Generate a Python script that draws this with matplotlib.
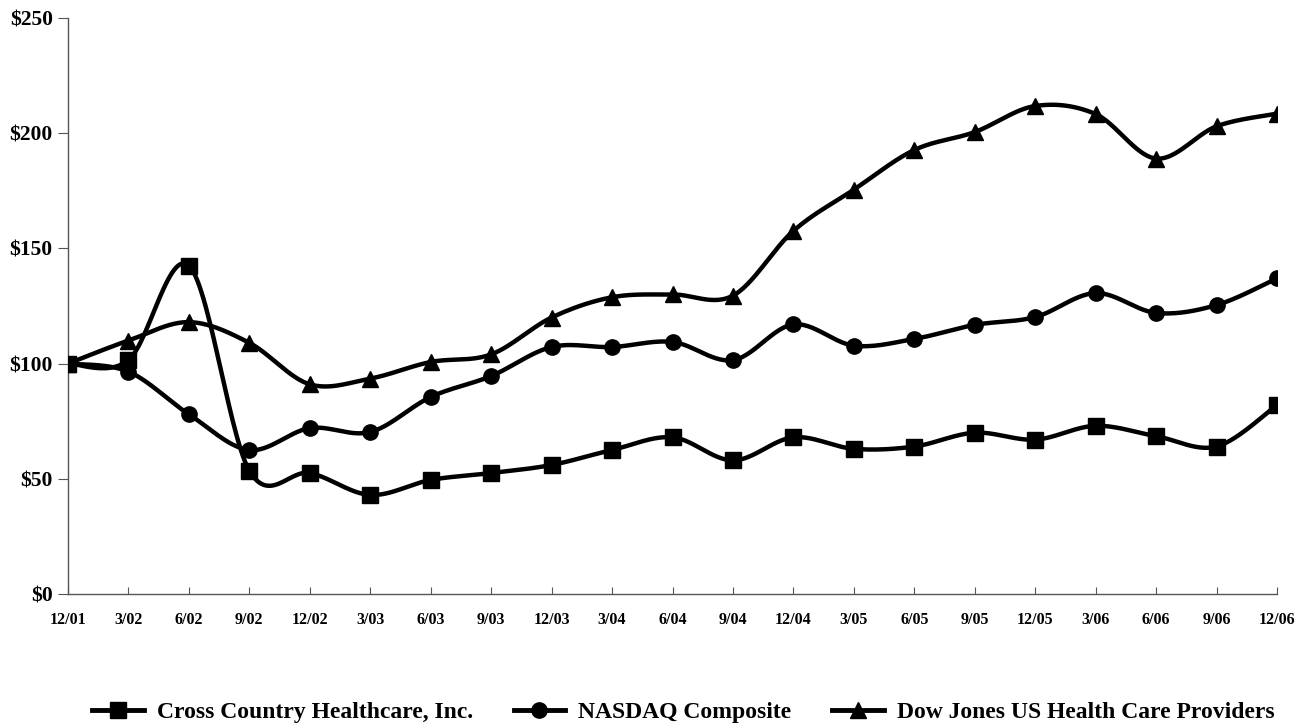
import numpy as np
import matplotlib
matplotlib.use("Agg")
import matplotlib.pyplot as plt
from matplotlib.lines import Line2D

# Quarter-end labels
quarters = ["12/01", "3/02", "6/02", "9/02", "12/02", "3/03", "6/03", "9/03",
            "12/03", "3/04", "6/04", "9/04", "12/04", "3/05", "6/05", "9/05",
            "12/05", "3/06", "6/06", "9/06", "12/06"]

# Values
cross_country = [100, 101.5, 142.5, 53.5, 52.5, 43, 49.5, 52.5, 56, 62.5, 68,
                 58, 68, 63, 64, 70, 67, 73, 68.5, 64, 82]
nasdaq = [100, 96.5, 78, 62.5, 72, 70.3, 85.5, 94.6, 107.2, 107.2, 109.4,
          101.5, 117, 107.8, 110.7, 116.8, 120.2, 130.6, 122, 125.4, 137]
dow_jones = [100, 110, 118, 109, 91, 93.5, 100.7, 104, 120, 128.8, 130,
             129.5, 157.6, 175.5, 192.7, 200.5, 211.8, 208.3, 189, 203, 208.5]

series_names = ["Cross Country Healthcare, Inc.", "NASDAQ Composite",
                "Dow Jones US Health Care Providers"]
markers = ["s", "o", "^"]
marker_sizes = [12, 11, 12]

plt.rcParams['font.family'] = ['Liberation Serif', 'DejaVu Serif']
plt.rcParams['font.weight'] = 'bold'


def smooth(xs, ys, n=30):
    # Excel-like smoothed line (Catmull-Rom / Bezier with 1/6 control offsets)
    px = np.concatenate([[xs[0]], xs, [xs[-1]]])
    py = np.concatenate([[ys[0]], ys, [ys[-1]]])
    out_x, out_y = [], []
    t = np.linspace(0, 1, n)
    for i in range(1, len(px) - 2):
        p0 = np.array([px[i], py[i]])
        p3 = np.array([px[i + 1], py[i + 1]])
        p1 = p0 + (np.array([px[i + 1], py[i + 1]]) - np.array([px[i - 1], py[i - 1]])) / 6
        p2 = p3 - (np.array([px[i + 2], py[i + 2]]) - np.array([px[i], py[i]])) / 6
        b = ((1 - t) ** 3)[:, None] * p0 + (3 * (1 - t) ** 2 * t)[:, None] * p1 \
            + (3 * (1 - t) * t ** 2)[:, None] * p2 + (t ** 3)[:, None] * p3
        out_x.extend(b[:, 0])
        out_y.extend(b[:, 1])
    return np.array(out_x), np.array(out_y)


fig = plt.figure(figsize=(13.04, 7.26), dpi=100)
ax = fig.add_axes([68 / 1304, 1 - 594 / 726, (1277 - 68) / 1304, (594 - 18) / 726])

x = np.arange(len(quarters))
for vals, m, ms in zip([cross_country, nasdaq, dow_jones], markers, marker_sizes):
    sx, sy = smooth(x.astype(float), np.array(vals, dtype=float))
    ax.plot(sx, sy, color="black", lw=3.2, solid_capstyle="round", zorder=2)
    ax.plot(x, vals, ls="none", marker=m, ms=ms, color="black", zorder=3)

ax.set_xlim(0, len(quarters) - 1)
ax.set_ylim(0, 250)
ax.set_yticks([0, 50, 100, 150, 200, 250])
ax.set_yticklabels(["$0", "$50", "$100", "$150", "$200", "$250"],
                   fontsize=15.5, fontweight="bold")
ax.set_xticks(x)
ax.set_xticklabels(quarters, fontsize=11.5, fontweight="bold")
ax.tick_params(axis="x", direction="in", length=5, pad=13, color="#555555")
ax.tick_params(axis="y", direction="out", length=7, pad=4, color="#555555")
for s in ["top", "right"]:
    ax.spines[s].set_visible(False)
for s in ["left", "bottom"]:
    ax.spines[s].set_color("#555555")
    ax.spines[s].set_linewidth(1)

handles = [Line2D([0], [0], color="black", lw=3.5, marker=m, ms=ms)
           for m, ms in zip(markers, marker_sizes)]
fig.legend(handles, series_names, loc="center", ncol=3,
           bbox_to_anchor=(0.524, 1 - 712 / 726), frameon=False,
           prop={"family": "Liberation Serif", "weight": "bold", "size": 17},
           handlelength=2.2, handletextpad=0.55, columnspacing=1.7,
           borderpad=0)

fig.savefig("out.png", dpi=100)
